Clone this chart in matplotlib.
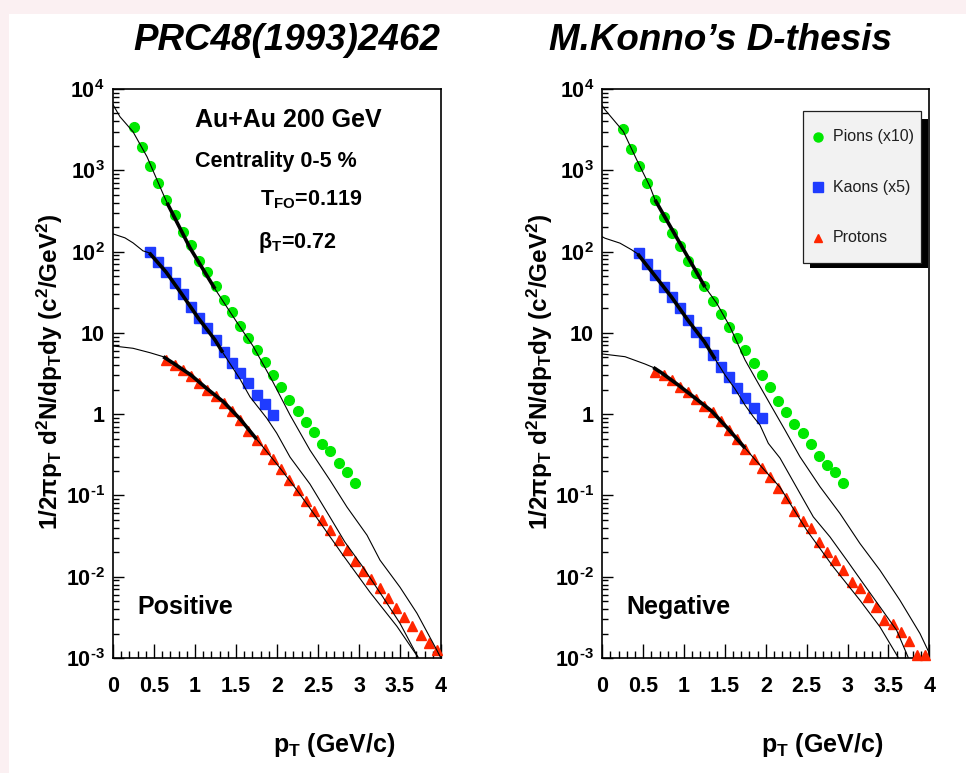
import numpy as np
import matplotlib
matplotlib.use("Agg")
import matplotlib.pyplot as plt
from matplotlib.patches import Rectangle
from matplotlib.ticker import FixedLocator, FixedFormatter, MultipleLocator, LogLocator, NullFormatter

plt.rcParams['font.family'] = ['Liberation Sans', 'DejaVu Sans']
plt.rcParams['font.weight'] = 'bold'
plt.rcParams['mathtext.fontset'] = 'custom'
plt.rcParams['mathtext.rm'] = 'Liberation Sans:bold'
plt.rcParams['mathtext.it'] = 'Liberation Sans:bold:italic'
plt.rcParams['mathtext.bf'] = 'Liberation Sans:bold'
plt.rcParams['mathtext.default'] = 'rm'

### DATA ###

# pT bins (GeV/c)
pi_pt = [0.25, 0.35, 0.45, 0.55, 0.65, 0.75, 0.85, 0.95, 1.05, 1.15, 1.25, 1.35, 1.45, 1.55,
         1.65, 1.75, 1.85, 1.95, 2.05, 2.15, 2.25, 2.35, 2.45, 2.55, 2.65, 2.75, 2.85, 2.95]
k_pt = [0.45, 0.55, 0.65, 0.75, 0.85, 0.95, 1.05, 1.15, 1.25, 1.35, 1.45, 1.55, 1.65, 1.75, 1.85, 1.95]
p_pt = [0.65, 0.75, 0.85, 0.95, 1.05, 1.15, 1.25, 1.35, 1.45, 1.55, 1.65, 1.75, 1.85, 1.95, 2.05, 2.15, 2.25,
        2.35, 2.45, 2.55, 2.65, 2.75, 2.85, 2.95, 3.05, 3.15, 3.25, 3.35, 3.45, 3.55, 3.65, 3.75, 3.85, 3.95]

# positive particles
pos_pi = [3404, 1910, 1114, 695, 433, 283, 173, 121, 77.5, 56.7, 38.1, 25.4, 17.9, 12.2, 8.58, 6.16,
          4.42, 3.03, 2.14, 1.49, 1.10, 0.79, 0.597, 0.425, 0.354, 0.248, 0.195, 0.143]
pos_k = [100, 75.3, 55.7, 41.5, 29.9, 21.0, 15.1, 11.4, 8.18, 5.74, 4.23, 3.18, 2.39, 1.71, 1.33, 0.975]
pos_p = [4.64, 4.03, 3.49, 2.95, 2.42, 1.98, 1.67, 1.37, 1.09, 0.846, 0.619, 0.480, 0.372, 0.280, 0.211,
         0.154, 0.115, 0.0863, 0.0650, 0.0497, 0.0379, 0.0286, 0.0215, 0.0157, 0.0117, 0.0095, 0.00733,
         0.00540, 0.00409, 0.00317, 0.00249, 0.00190, 0.00154, 0.00124]

# negative particles
neg_pi = [3243, 1841, 1114, 707, 433, 270, 171, 118.6, 77.5, 54.2, 37.8, 24.9, 17.1, 11.9, 8.58, 6.16,
          4.23, 3.03, 2.14, 1.46, 1.05, 0.755, 0.581, 0.425, 0.308, 0.236, 0.195, 0.143]
neg_k = [95.0, 70.6, 51.6, 37.1, 27.4, 20.1, 14.4, 10.3, 7.62, 5.35, 3.84, 2.89, 2.10, 1.58, 1.19, 0.895]
neg_p = [3.33, 3.03, 2.63, 2.17, 1.89, 1.53, 1.26, 1.06, 0.822, 0.637, 0.493, 0.377, 0.284, 0.220, 0.167,
         0.122, 0.0918, 0.0641, 0.0483, 0.0393, 0.0269, 0.0202, 0.0160, 0.0120, 0.00855, 0.00721, 0.00564,
         0.00425, 0.00291, 0.00262, 0.00207, 0.00163, 0.00109, 0.00108]

# blast-wave curves
pos_pi_curve_pt = [0, 0.085, 0.244, 0.415, 0.573, 0.659, 0.939, 1.244, 1.427, 1.549, 1.707, 1.829, 1.951,
                   2.159, 2.402, 2.646, 2.854, 3.098, 3.256, 3.5, 3.707, 3.951, 4.0]
pos_pi_curve = [6412, 4560, 2980, 1466, 627, 398, 111, 34.7, 18.1, 11.8, 6.90, 4.14, 2.48, 0.975, 0.361,
                0.154, 0.0718, 0.0324, 0.0160, 0.00743, 0.00355, 0.00124, 0.00099]
pos_k_curve_pt = [0, 0.146, 0.244, 0.366, 0.443, 0.646, 0.838, 1.040, 1.244, 1.338, 1.549, 1.671, 1.874,
                  1.996, 2.159, 2.402, 2.646, 2.829, 3.049, 3.293, 3.5, 3.72]
pos_k_curve = [165, 147.5, 128, 102, 96.4, 56.2, 30.1, 15.2, 8.18, 5.74, 2.70, 1.63, 0.895, 0.585, 0.296,
               0.138, 0.0541, 0.0266, 0.0131, 0.00559, 0.00267, 0.00102]
pos_p_curve_pt = [0, 0.244, 0.451, 0.613, 0.75, 0.95, 1.15, 1.35, 1.55, 1.75, 1.85, 2.037, 2.244, 2.488,
                  2.805, 3.134, 3.463, 3.72]
pos_p_curve = [6.90, 6.46, 5.70, 5.09, 4.14, 3.03, 2.04, 1.41, 0.871, 0.493, 0.372, 0.217, 0.116, 0.0525,
               0.0184, 0.00644, 0.00245, 0.00102]

neg_pi_curve_pt = [0, 0.033, 0.257, 0.421, 0.583, 0.645, 1.256, 1.399, 1.562, 1.746, 1.908, 2.072, 2.235,
                   2.418, 2.663, 2.907, 3.152, 3.397, 3.641, 3.886, 3.996]
neg_pi_curve = [6227, 5559, 3006, 1347, 631, 433, 36.7, 23.2, 11.9, 4.64, 2.39, 1.23, 0.637, 0.299, 0.128,
                0.060, 0.0256, 0.0120, 0.00513, 0.00200, 0.00117]
neg_k_curve_pt = [0, 0.033, 0.216, 0.360, 0.433, 0.636, 0.849, 1.045, 1.248, 1.379, 1.501, 1.624, 1.746,
                  1.847, 1.929, 2.031, 2.174, 2.418, 2.581, 2.785, 2.990, 3.193, 3.397, 3.601, 3.743]
neg_k_curve = [152, 146, 127, 105, 93.7, 51.6, 27.4, 14.4, 7.80, 4.77, 3.03, 2.04, 1.29, 0.929, 0.734,
               0.437, 0.288, 0.106, 0.0545, 0.0309, 0.0160, 0.00824, 0.00425, 0.00219, 0.00101]
neg_p_curve_pt = [0, 0.278, 0.522, 0.624, 0.727, 0.930, 1.134, 1.338, 1.541, 1.746, 1.950, 2.174, 2.500,
                  2.826, 3.152, 3.397, 3.621]
neg_p_curve = [5.50, 5.09, 4.14, 3.75, 3.21, 2.28, 1.58, 1.09, 0.656, 0.382, 0.223, 0.126, 0.0374, 0.0132,
               0.00513, 0.00241, 0.00101]

# fit ranges (thick part of the curves)
pos_fit_range = {'pi': (0.63, 1.26), 'k': (0.44, 1.34), 'p': (0.60, 1.76)}
neg_fit_range = {'pi': (0.64, 1.26), 'k': (0.40, 1.38), 'p': (0.62, 1.75)}

ytick_vals = [1e-3, 1e-2, 1e-1, 1, 10, 1e2, 1e3, 1e4]
ytick_labels = ['10$^{\u20103}$', '10$^{\u20102}$', '10$^{\u20101}$', '1', '10', '10$^{2}$', '10$^{3}$', '10$^{4}$']
xtick_vals = [0, 0.5, 1, 1.5, 2, 2.5, 3, 3.5, 4]
xtick_labels = ['0', '0.5', '1', '1.5', '2', '2.5', '3', '3.5', '4']

legend_labels = ['Pions (x10)', 'Kaons (x5)', 'Protons']

GREEN = '#00e800'
BLUE = '#1f3cff'
RED = '#ff2600'


def drawCurve(ax, xs, ys, rng):
    ax.plot(xs, ys, color='black', lw=0.8, zorder=4)
    xs = np.array(xs)
    ys = np.array(ys)
    m = (xs >= rng[0]) & (xs <= rng[1])
    ax.plot(xs[m], ys[m], color='black', lw=2.6, solid_capstyle='butt', zorder=5)


def setupAxes(ax):
    ax.set_yscale('log')
    ax.set_xlim(0, 4)
    ax.set_ylim(1e-3, 1e4)
    ax.yaxis.set_major_locator(FixedLocator(ytick_vals))
    ax.yaxis.set_major_formatter(FixedFormatter(ytick_labels))
    ax.yaxis.set_minor_locator(LogLocator(base=10, subs=np.arange(2, 10), numticks=20))
    ax.yaxis.set_minor_formatter(NullFormatter())
    ax.xaxis.set_major_locator(FixedLocator(xtick_vals))
    ax.xaxis.set_major_formatter(FixedFormatter(xtick_labels))
    ax.xaxis.set_minor_locator(MultipleLocator(0.1))
    ax.tick_params(which='both', direction='in', top=False, right=False, width=1.0, labelsize=15.5)
    ax.tick_params(axis='y', which='major', length=8, pad=6)
    ax.tick_params(axis='y', which='minor', length=4)
    ax.tick_params(axis='x', which='major', length=10, pad=13)
    ax.tick_params(axis='x', which='minor', length=5)
    for s in ax.spines.values():
        s.set_linewidth(1.2)
    ax.text(0.86, -0.153, 'p$_{T}$ (GeV/c)', transform=ax.transAxes, ha='right', va='center',
            fontsize=18, fontweight='bold')
    ax.text(-0.192, 0.782, '1/2πp$_{T}$ d$^{2}$N/dp$_{T}$dy (c$^{2}$/GeV$^{2}$)', transform=ax.transAxes,
            rotation=90, ha='center', va='top', fontsize=17.5, fontweight='bold')


def drawPanel(ax, pi, k, p, curves, rng, label):
    ax.plot(pi_pt, pi, 'o', color=GREEN, ms=7, mec=GREEN, zorder=3)
    ax.plot(k_pt, k, 's', color=BLUE, ms=7, mec=BLUE, zorder=3)
    ax.plot(p_pt, p, '^', color=RED, ms=6.5, mec=RED, zorder=3, clip_on=False)
    drawCurve(ax, curves[0][0], curves[0][1], rng['pi'])
    drawCurve(ax, curves[1][0], curves[1][1], rng['k'])
    drawCurve(ax, curves[2][0], curves[2][1], rng['p'])
    setupAxes(ax)
    ax.text(0.073, 0.0896, label, transform=ax.transAxes, ha='left', va='center', fontsize=18,
            fontweight='bold')


fig = plt.figure(figsize=(9.66, 7.73), dpi=100)
fig.patches.append(Rectangle((0, 1 - 14 / 773), 1, 14 / 773, transform=fig.transFigure,
                             facecolor='#fbf0f2', edgecolor='none', zorder=0))
fig.patches.append(Rectangle((0, 0), 9 / 966, 1, transform=fig.transFigure,
                             facecolor='#fbf0f2', edgecolor='none', zorder=0))

ax1 = fig.add_axes([113 / 966, 115 / 773, 328 / 966, 569 / 773])
ax2 = fig.add_axes([602.3 / 966, 115 / 773, 327 / 966, 569 / 773])

drawPanel(ax1, pos_pi, pos_k, pos_p,
          [(pos_pi_curve_pt, pos_pi_curve), (pos_k_curve_pt, pos_k_curve), (pos_p_curve_pt, pos_p_curve)],
          pos_fit_range, 'Positive')
drawPanel(ax2, neg_pi, neg_k, neg_p,
          [(neg_pi_curve_pt, neg_pi_curve), (neg_k_curve_pt, neg_k_curve), (neg_p_curve_pt, neg_p_curve)],
          neg_fit_range, 'Negative')

# fit parameters on the left panel
ax1.text(0.25, 0.9455, 'Au+Au 200 GeV', transform=ax1.transAxes, ha='left', va='center', fontsize=18)
ax1.text(0.25, 0.873, 'Centrality 0-5 %', transform=ax1.transAxes, ha='left', va='center', fontsize=15.5)
ax1.text(0.448, 0.805, 'T$_{FO}$=0.119', transform=ax1.transAxes, ha='left', va='center', fontsize=15.5)
ax1.text(0.442, 0.731, 'β$_{T}$=0.72', transform=ax1.transAxes, ha='left', va='center', fontsize=15.5)

# legend box on the right panel, ROOT style with a black shadow
lx0, lx1, ly0, ly1 = 0.613, 0.975, 0.695, 0.962
ax2.add_patch(Rectangle((lx0 + 7 / 327, ly0 - 5 / 569), lx1 - lx0, ly1 - ly0 - 3 / 569,
                        transform=ax2.transAxes, facecolor='black', edgecolor='none', zorder=9))
ax2.add_patch(Rectangle((lx0, ly0), lx1 - lx0, ly1 - ly0, transform=ax2.transAxes,
                        facecolor='#f2f2f2', edgecolor='#202020', lw=0.9, zorder=10))
leg_y = [0.916, 0.8272, 0.7387]
leg_style = [('o', GREEN, 6.5), ('s', BLUE, 6.5), ('^', RED, 6)]
for i in range(3):
    ax2.plot([0.659], [leg_y[i]], leg_style[i][0], color=leg_style[i][1], ms=leg_style[i][2],
             transform=ax2.transAxes, zorder=11, clip_on=False)
    ax2.text(0.7046, leg_y[i], legend_labels[i], transform=ax2.transAxes, ha='left', va='center',
             fontsize=11.5, fontweight='normal', color='#202020', zorder=11)

# slide titles
fig.text(0.2966, 0.948, 'PRC48(1993)2462', ha='center', va='center', fontsize=26.5,
         fontweight='bold', fontstyle='italic')
fig.text(0.7459, 0.948, 'M.Konno’s D-thesis', ha='center', va='center', fontsize=26.5,
         fontweight='bold', fontstyle='italic')

fig.savefig('out.png', dpi=100)
